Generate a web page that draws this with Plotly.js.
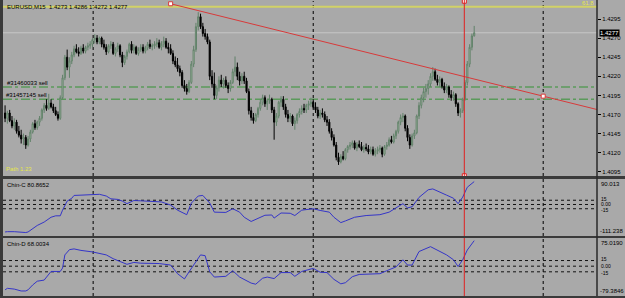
<!DOCTYPE html>
<html><head><meta charset="utf-8">
<script src="https://cdn.plot.ly/plotly-3.0.1.min.js"></script>
<style>html,body{margin:0;padding:0;background:#a9a9a9;}#chart{width:625px;height:298px;}</style>
</head><body><div id="chart"></div>
<script>
// ---- data (EURUSD M15 bars) ----
const opens = [1.4172,1.4165,1.4172,1.4162,1.4155,1.4160,1.4148,1.4143,1.4138,1.4140,
1.4130,1.4138,1.4147,1.4158,1.4153,1.4160,1.4165,1.4176,1.4182,1.4178,
1.4185,1.4180,1.4175,1.4170,1.4165,1.4192,1.4218,1.4245,1.4232,1.4240,
1.4248,1.4256,1.4252,1.4250,1.4257,1.4253,1.4258,1.4260,1.4262,1.4268,
1.4270,1.4265,1.4270,1.4262,1.4258,1.4252,1.4260,1.4262,1.4250,1.4256,
1.4260,1.4248,1.4238,1.4246,1.4252,1.4262,1.4254,1.4258,1.4250,1.4255,
1.4258,1.4253,1.4257,1.4262,1.4259,1.4260,1.4262,1.4264,1.4258,1.4262,
1.4266,1.4258,1.4256,1.4250,1.4240,1.4235,1.4230,1.4225,1.4208,1.4204,
1.4200,1.4212,1.4236,1.4255,1.4285,1.4298,1.4285,1.4276,1.4272,1.4265,
1.4220,1.4210,1.4195,1.4205,1.4215,1.4210,1.4215,1.4208,1.4204,1.4212,
1.4226,1.4232,1.4220,1.4214,1.4220,1.4214,1.4200,1.4175,1.4166,1.4162,
1.4170,1.4178,1.4186,1.4192,1.4184,1.4188,1.4190,1.4176,1.4160,1.4168,
1.4186,1.4190,1.4180,1.4170,1.4165,1.4168,1.4158,1.4162,1.4170,1.4174,
1.4178,1.4176,1.4182,1.4184,1.4186,1.4180,1.4176,1.4168,1.4172,1.4170,
1.4163,1.4160,1.4148,1.4140,1.4130,1.4114,1.4108,1.4115,1.4112,1.4124,
1.4128,1.4130,1.4133,1.4126,1.4131,1.4128,1.4124,1.4127,1.4125,1.4121,
1.4124,1.4118,1.4122,1.4124,1.4126,1.4118,1.4128,1.4130,1.4137,1.4134,
1.4142,1.4148,1.4160,1.4166,1.4168,1.4152,1.4140,1.4130,1.4142,1.4146,
1.4168,1.4182,1.4192,1.4200,1.4204,1.4210,1.4220,1.4226,1.4216,1.4212,
1.4216,1.4207,1.4202,1.4206,1.4196,1.4192,1.4196,1.4184,1.4172,1.4175,
1.4190,1.4212,1.4236,1.4258,1.4273];
const highs = [1.4182,1.4175,1.4176,1.4168,1.4165,1.4163,1.4155,1.4150,1.4145,1.4143,
1.4142,1.4150,1.4160,1.4163,1.4162,1.4168,1.4178,1.4185,1.4190,1.4197,
1.4190,1.4184,1.4180,1.4174,1.4195,1.4222,1.4248,1.4255,1.4245,1.4252,
1.4260,1.4262,1.4258,1.4260,1.4262,1.4260,1.4264,1.4266,1.4270,1.4275,
1.4274,1.4272,1.4272,1.4268,1.4262,1.4262,1.4266,1.4265,1.4258,1.4264,
1.4262,1.4252,1.4248,1.4255,1.4264,1.4266,1.4262,1.4260,1.4258,1.4262,
1.4262,1.4260,1.4265,1.4268,1.4263,1.4266,1.4270,1.4268,1.4266,1.4272,
1.4270,1.4264,1.4262,1.4254,1.4246,1.4244,1.4234,1.4228,1.4215,1.4210,
1.4215,1.4240,1.4260,1.4290,1.4304,1.4302,1.4290,1.4282,1.4276,1.4268,
1.4228,1.4225,1.4208,1.4220,1.4222,1.4218,1.4220,1.4212,1.4215,1.4230,
1.4246,1.4238,1.4226,1.4224,1.4226,1.4218,1.4204,1.4180,1.4172,1.4172,
1.4180,1.4190,1.4196,1.4195,1.4190,1.4196,1.4192,1.4180,1.4172,1.4188,
1.4194,1.4194,1.4184,1.4176,1.4172,1.4170,1.4166,1.4172,1.4178,1.4182,
1.4184,1.4184,1.4188,1.4192,1.4190,1.4186,1.4180,1.4176,1.4178,1.4174,
1.4168,1.4164,1.4152,1.4144,1.4134,1.4120,1.4118,1.4122,1.4126,1.4130,
1.4134,1.4136,1.4136,1.4134,1.4136,1.4134,1.4130,1.4132,1.4130,1.4128,
1.4128,1.4126,1.4128,1.4130,1.4128,1.4130,1.4134,1.4140,1.4142,1.4145,
1.4150,1.4162,1.4170,1.4172,1.4170,1.4156,1.4144,1.4145,1.4150,1.4170,
1.4186,1.4196,1.4205,1.4210,1.4215,1.4224,1.4232,1.4230,1.4222,1.4220,
1.4218,1.4212,1.4210,1.4208,1.4202,1.4200,1.4198,1.4186,1.4178,1.4192,
1.4215,1.4240,1.4262,1.4276,1.4286];
const lows = [1.4160,1.4158,1.4160,1.4152,1.4150,1.4145,1.4140,1.4132,1.4130,1.4125,
1.4128,1.4134,1.4145,1.4150,1.4150,1.4155,1.4162,1.4172,1.4175,1.4176,
1.4178,1.4172,1.4168,1.4162,1.4163,1.4190,1.4215,1.4228,1.4218,1.4236,
1.4245,1.4250,1.4246,1.4248,1.4250,1.4250,1.4254,1.4256,1.4258,1.4263,
1.4262,1.4262,1.4258,1.4255,1.4248,1.4250,1.4256,1.4248,1.4246,1.4252,
1.4245,1.4232,1.4235,1.4242,1.4250,1.4250,1.4250,1.4248,1.4247,1.4252,
1.4250,1.4250,1.4254,1.4256,1.4254,1.4256,1.4258,1.4256,1.4254,1.4258,
1.4256,1.4250,1.4248,1.4236,1.4232,1.4226,1.4220,1.4205,1.4200,1.4196,
1.4198,1.4210,1.4232,1.4252,1.4280,1.4282,1.4272,1.4268,1.4262,1.4215,
1.4205,1.4190,1.4190,1.4200,1.4206,1.4204,1.4205,1.4198,1.4200,1.4210,
1.4220,1.4215,1.4208,1.4210,1.4210,1.4198,1.4170,1.4162,1.4158,1.4160,
1.4166,1.4175,1.4182,1.4180,1.4176,1.4184,1.4172,1.4137,1.4155,1.4165,
1.4180,1.4176,1.4166,1.4160,1.4160,1.4155,1.4150,1.4158,1.4166,1.4170,
1.4172,1.4172,1.4176,1.4180,1.4178,1.4172,1.4165,1.4164,1.4166,1.4160,
1.4155,1.4145,1.4136,1.4128,1.4110,1.4104,1.4106,1.4110,1.4110,1.4120,
1.4124,1.4126,1.4124,1.4122,1.4126,1.4122,1.4120,1.4122,1.4118,1.4118,
1.4116,1.4115,1.4118,1.4120,1.4114,1.4116,1.4124,1.4128,1.4132,1.4132,
1.4138,1.4145,1.4156,1.4160,1.4148,1.4135,1.4125,1.4128,1.4138,1.4144,
1.4164,1.4178,1.4186,1.4192,1.4196,1.4206,1.4214,1.4214,1.4208,1.4206,
1.4204,1.4198,1.4198,1.4192,1.4188,1.4188,1.4180,1.4168,1.4166,1.4172,
1.4188,1.4208,1.4232,1.4254,1.4272];
const closes = [1.4165,1.4172,1.4162,1.4155,1.4160,1.4148,1.4143,1.4138,1.4140,1.4130,
1.4138,1.4147,1.4158,1.4153,1.4160,1.4165,1.4176,1.4182,1.4178,1.4185,
1.4180,1.4175,1.4170,1.4165,1.4192,1.4218,1.4245,1.4232,1.4240,1.4248,
1.4256,1.4252,1.4250,1.4257,1.4253,1.4258,1.4260,1.4262,1.4268,1.4270,
1.4265,1.4270,1.4262,1.4258,1.4252,1.4260,1.4262,1.4250,1.4256,1.4260,
1.4248,1.4238,1.4246,1.4252,1.4262,1.4254,1.4258,1.4250,1.4255,1.4258,
1.4253,1.4257,1.4262,1.4259,1.4260,1.4262,1.4264,1.4258,1.4262,1.4266,
1.4258,1.4256,1.4250,1.4240,1.4235,1.4230,1.4225,1.4208,1.4204,1.4200,
1.4212,1.4236,1.4255,1.4285,1.4298,1.4285,1.4276,1.4272,1.4265,1.4220,
1.4210,1.4195,1.4205,1.4215,1.4210,1.4215,1.4208,1.4204,1.4212,1.4226,
1.4232,1.4220,1.4214,1.4220,1.4214,1.4200,1.4175,1.4166,1.4162,1.4170,
1.4178,1.4186,1.4192,1.4184,1.4188,1.4190,1.4176,1.4160,1.4168,1.4186,
1.4190,1.4180,1.4170,1.4165,1.4168,1.4158,1.4162,1.4170,1.4174,1.4178,
1.4176,1.4182,1.4184,1.4186,1.4180,1.4176,1.4168,1.4172,1.4170,1.4163,
1.4160,1.4148,1.4140,1.4130,1.4114,1.4108,1.4115,1.4112,1.4124,1.4128,
1.4130,1.4133,1.4126,1.4131,1.4128,1.4124,1.4127,1.4125,1.4121,1.4124,
1.4118,1.4122,1.4124,1.4126,1.4118,1.4128,1.4130,1.4137,1.4134,1.4142,
1.4148,1.4160,1.4166,1.4168,1.4152,1.4140,1.4130,1.4142,1.4146,1.4168,
1.4182,1.4192,1.4200,1.4204,1.4210,1.4220,1.4226,1.4216,1.4212,1.4216,
1.4207,1.4202,1.4206,1.4196,1.4192,1.4196,1.4184,1.4172,1.4175,1.4190,
1.4212,1.4236,1.4258,1.4273,1.4277];

// Chin-C indicator readings (bar index, value)
const chinCBars = [0,1,4,7,9,10,12,14,17,20,22,24,25,26,27,29,30,33,38,41,44,46,49,51,53,56,59,65,68,72,75,79,81,84,86,89,91,96,99,102,104,107,110,113,116,117,120,124,126,129,133,134,137,141,143,146,148,152,157,163,167,170,173,175,177,180,182,184,186,189,192,195,197,199,201,204];
const chinCVals = [-97,-96,-96,-99,-99,-97,-84,-74,-62,-45,-40,-40,-20,-3,12,22,32,33,34,36,30,20,18,12,3,14,13,11,9,-2,-20,-36,5,30,32,5,-27,-28,-15,-27,-45,-60,-50,-38,-37,-48,-30,-31,-39,-20,-16,-15,-21,-27,-45,-64,-58,-45,-39,-36,-27,-11,3,-12,-8,25,40,52,55,45,33,22,3,26,61,80.8652];
// Chin-D indicator readings (bar index, value)
const chinDBars = [0,1,4,7,9,10,12,14,17,19,20,24,25,26,28,30,33,38,41,44,47,50,53,56,59,67,72,75,78,80,83,85,87,89,91,96,99,102,107,109,112,114,117,120,124,126,129,133,134,137,140,143,146,148,151,154,163,166,170,173,175,177,180,185,189,192,195,197,199,201,204];
const chinDVals = [-63,-59,-61,-66,-66,-63,-50,-40,-37,-20,-14,-14,-5,30,44,46,42,38,34,30,20,12,5,10,8,7,3,-20,-34,-15,12,30,28,-15,-29,-27,-12,-29,-45,-48,-32,-29,-33,-17,-17,-27,-14,-8,-6,-16,-17,-35,-47,-44,-28,-22,-20,-12,-2,17,3,3,39,52,40,30,17,-1,17,43,68.0034];

const priceTicks = [1.4295,1.4270,1.4245,1.4220,1.4195,1.4170,1.4145,1.4120,1.4095];
const chinCLevels = [15,0,-15];
const chinDLevels = [15,0,-15];
const levelLabels = ['15','0.00','-15'];
const chinCRange = [-111.238, 90.013];
const chinDRange = [-79.3846, 75.019];
const daySeparators = [38.3, 134, 234];
const orderLevels = [1.4206, 1.4190];
const orderLabels = ['#31460033 sell', '#31457145 sell'];
const fibLevel = 1.4311;
const bidPrice = 1.4277;
const trendX = [72, 234];
const trendY = [1.4315, 1.4194];
const vlineBar = 199.7;
const headerText = 'EURUSD,M15  1.4273 1.4286 1.4272 1.4277';

// ---- chart ----
const bars = opens.map((_, i) => i);
const xRange = [-0.9, 257.4];
const mainRange = [1.40895, 1.43186];
const FONT = 'Liberation Sans, Arial, sans-serif';
const slope = (trendY[1]-trendY[0])/(trendX[1]-trendX[0]);
const trendEndX = xRange[1];
const trendEndY = trendY[0] + slope*(trendEndX-trendX[0]);

const traces = [
  {type:'candlestick', x:bars, open:opens, high:highs, low:lows, close:closes,
   xaxis:'x', yaxis:'y', whiskerwidth:0,
   increasing:{line:{color:'#62826a', width:1}, fillcolor:'#bccdb6'},
   decreasing:{line:{color:'#000000', width:1}, fillcolor:'#000000'},
   hoverinfo:'skip'},
  {type:'scatter', mode:'lines', x:[trendX[0], trendEndX], y:[trendY[0], trendEndY],
   xaxis:'x', yaxis:'y', line:{color:'#d83a3a', width:1}, hoverinfo:'skip', cliponaxis:false},
  {type:'scatter', mode:'markers', x:trendX, y:trendY, xaxis:'x', yaxis:'y', cliponaxis:false,
   marker:{symbol:'square', size:4, color:'#ffffff', line:{color:'#d83a3a', width:1}}, hoverinfo:'skip'},
  {type:'scatter', mode:'markers', x:[vlineBar, vlineBar], y:[mainRange[1]-0.00003, mainRange[0]+0.00003],
   xaxis:'x', yaxis:'y', cliponaxis:false,
   marker:{symbol:'square', size:4, color:'#ffffff', line:{color:'#e02020', width:1}}, hoverinfo:'skip'},
  {type:'scatter', mode:'lines', x:chinCBars, y:chinCVals, xaxis:'x', yaxis:'y2',
   line:{color:'#3535c8', width:1}, hoverinfo:'skip'},
  {type:'scatter', mode:'lines', x:chinDBars, y:chinDVals, xaxis:'x', yaxis:'y3',
   line:{color:'#3535c8', width:1}, hoverinfo:'skip'}
];

const shapes = [];
daySeparators.forEach(d => shapes.push({type:'line', xref:'x', yref:'paper', x0:d, x1:d, y0:0, y1:1,
  line:{color:'#000', width:1, dash:'dot'}, layer:'below'}));
chinCLevels.forEach(v => shapes.push({type:'line', xref:'paper', yref:'y2', x0:0, x1:1, y0:v, y1:v,
  line:{color:'#111', width:1, dash:'dot'}, layer:'below'}));
chinDLevels.forEach(v => shapes.push({type:'line', xref:'paper', yref:'y3', x0:0, x1:1, y0:v, y1:v,
  line:{color:'#111', width:1, dash:'dot'}, layer:'below'}));
shapes.push({type:'line', xref:'paper', yref:'y', x0:0, x1:1, y0:bidPrice, y1:bidPrice,
  line:{color:'#c6c6c6', width:1}, layer:'below'});
shapes.push({type:'line', xref:'paper', yref:'y', x0:0, x1:1, y0:fibLevel, y1:fibLevel,
  line:{color:'#d2d266', width:2}, layer:'below'});
orderLevels.forEach(v => shapes.push({type:'line', xref:'paper', yref:'y', x0:0, x1:1, y0:v, y1:v,
  line:{color:'#5b9a5b', width:1.5, dash:'dashdot'}, layer:'below'}));
shapes.push({type:'line', xref:'x', yref:'paper', x0:vlineBar, x1:vlineBar, y0:0, y1:1.004,
  line:{color:'#e02020', width:1}});
// panel separators & frame
shapes.push({type:'rect', xref:'paper', yref:'paper', x0:-0.01, x1:1.05, y0:0.3966, y1:0.4068,
  fillcolor:'#3a3a3a', line:{width:0}});
shapes.push({type:'rect', xref:'paper', yref:'paper', x0:-0.01, x1:1.05, y0:0.1966, y1:0.2034,
  fillcolor:'#3a3a3a', line:{width:0}});
shapes.push({type:'rect', xref:'paper', yref:'paper', x0:-0.006, x1:0, y0:-0.01, y1:1.01,
  fillcolor:'#3a3a3a', line:{width:0}});
shapes.push({type:'rect', xref:'paper', yref:'paper', x0:-0.01, x1:1.05, y0:-0.01, y1:0,
  fillcolor:'#3a3a3a', line:{width:0}});
shapes.push({type:'line', xref:'paper', yref:'paper', x0:1, x1:1, y0:0, y1:1.01,
  line:{color:'#2a2a2a', width:1.5}});

const smallFont = {family:FONT, size:6, color:'#000'};
const tinyFont = {family:FONT, size:5, color:'#000'};
const annotations = [
  {xref:'paper', yref:'paper', x:0.003, y:1, xanchor:'left', yanchor:'top', text:headerText,
   showarrow:false, font:smallFont, yshift:-1},
  {xref:'paper', yref:'y', x:0.004, y:orderLevels[0], xanchor:'left', yanchor:'bottom', text:orderLabels[0],
   showarrow:false, font:smallFont, yshift:-1},
  {xref:'paper', yref:'y', x:0.002, y:orderLevels[1], xanchor:'left', yanchor:'bottom', text:orderLabels[1],
   showarrow:false, font:smallFont, yshift:-1},
  {xref:'paper', yref:'y', x:0.002, y:mainRange[0], xanchor:'left', yanchor:'bottom', text:'Path 1.23',
   showarrow:false, font:{family:FONT, size:6, color:'#e6e64a'}, yshift:2},
  {xref:'paper', yref:'y', x:0.998, y:fibLevel, xanchor:'right', yanchor:'bottom', text:'61.8',
   showarrow:false, font:{family:FONT, size:6, color:'#e6e64a'}, yshift:-1},
  {xref:'paper', yref:'y2', x:0.004, y:chinCRange[1], xanchor:'left', yanchor:'top', text:'Chin-C 80.8652',
   showarrow:false, font:smallFont, yshift:-1},
  {xref:'paper', yref:'y3', x:0.004, y:chinDRange[1], xanchor:'left', yanchor:'top', text:'Chin-D 68.0034',
   showarrow:false, font:smallFont, yshift:-1},
  {xref:'paper', yref:'y2', x:1, y:chinCRange[1], xanchor:'left', yanchor:'top', text:'90.013',
   showarrow:false, font:smallFont, xshift:2},
  {xref:'paper', yref:'y2', x:1, y:chinCRange[0], xanchor:'left', yanchor:'bottom', text:'-111.238',
   showarrow:false, font:smallFont, xshift:1},
  {xref:'paper', yref:'y3', x:1, y:chinDRange[1], xanchor:'left', yanchor:'top', text:'75.0190',
   showarrow:false, font:smallFont, xshift:2},
  {xref:'paper', yref:'y3', x:1, y:chinDRange[0], xanchor:'left', yanchor:'bottom', text:'-79.3846',
   showarrow:false, font:smallFont, xshift:1},
  {xref:'paper', yref:'y', x:1, y:bidPrice, xanchor:'left', yanchor:'middle', text:bidPrice.toFixed(4),
   showarrow:false, font:{family:FONT, size:6, color:'#fff'}, bgcolor:'#000', borderpad:0, xshift:2}
];
const levelShift = [1.5, 0, -1.5];
chinCLevels.forEach((v, k) => annotations.push({xref:'paper', yref:'y2', x:1, y:v, xanchor:'left',
  yanchor:'middle', text:levelLabels[k], showarrow:false, font:tinyFont, xshift:2, yshift:levelShift[k]}));
chinDLevels.forEach((v, k) => annotations.push({xref:'paper', yref:'y3', x:1, y:v, xanchor:'left',
  yanchor:'middle', text:levelLabels[k], showarrow:false, font:tinyFont, xshift:2, yshift:levelShift[k]}));

const layout = {
  width:625, height:298,
  margin:{l:3, r:28, t:1, b:2},
  paper_bgcolor:'#a9a9a9', plot_bgcolor:'#a9a9a9',
  showlegend:false,
  xaxis:{range:xRange, showgrid:false, zeroline:false, showticklabels:false, ticks:'',
         rangeslider:{visible:false}, fixedrange:true, anchor:'y3'},
  yaxis:{domain:[0.4068,1], range:mainRange, side:'right', showgrid:false, zeroline:false,
         tickvals:priceTicks, ticktext:priceTicks.map(v=>v.toFixed(4)), ticks:'outside', ticklen:3,
         tickcolor:'#000', tickfont:{family:FONT, size:6, color:'#000'}, anchor:'x'},
  yaxis2:{domain:[0.2034,0.3966], range:chinCRange, side:'right', showgrid:false, zeroline:false,
         showticklabels:false, ticks:'', anchor:'x'},
  yaxis3:{domain:[0,0.1966], range:chinDRange, side:'right', showgrid:false, zeroline:false,
         showticklabels:false, ticks:'', anchor:'x'},
  shapes:shapes, annotations:annotations
};
Plotly.newPlot('chart', traces, layout, {staticPlot:true, displayModeBar:false});
</script></body></html>
